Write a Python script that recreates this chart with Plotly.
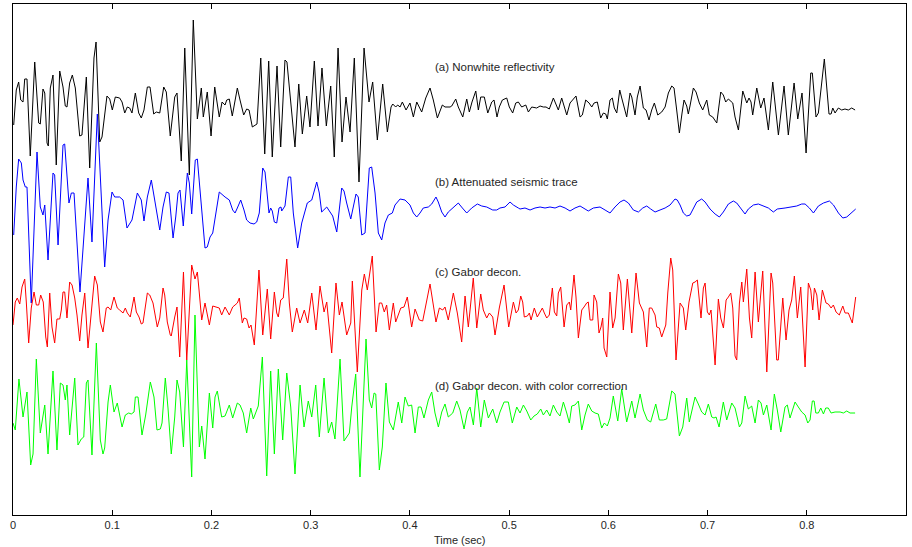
import numpy as np
import plotly.graph_objects as go

# ---------------- data (time in ms, amplitude in display units) ----------------
a_t = [0.7,3.3,5.7,7.8,10.1,11.8,14.1,17.4,21.9,25.9,
       27.5,30.2,32.0,34.3,35.6,37.6,40.3,43.6,47.1,50.4,
       52.7,54.4,57.1,59.8,62.8,67.2,69.5,73.9,77.3,81.6,
       83.7,87.4,89.7,94.7,97.5,100.1,103.1,107.5,109.9,112.6,
       115.2,117.6,119.9,123.3,126.7,129.3,132.0,135.4,138.1,141.8,
       144.4,147.9,151.9,154.5,158.5,163.0,165.3,169.6,173.1,177.7,
       181.7,185.8,189.8,191.8,195.8,199.6,203.3,207.9,210.7,213.7,
       215.4,218.0,221.0,226.1,228.8,232.5,235.5,237.9,241.2,245.9,
       249.7,253.7,257.7,261.3,266.1,269.8,274.1,276.1,284.2,288.0,
       291.6,296.0,299.3,303.7,307.4,311.4,315.8,320.2,323.8,327.6,
       331.6,335.6,339.7,344.0,348.7,353.8,358.8,362.5,367.2,372.6,
       377.3,381.0,382.7,385.7,387.7,390.1,392.4,396.1,400.1,403.5,
       406.9,409.2,411.9,416.0,420.3,423.6,427.7,432.7,435.4,440.5,
       442.2,446.2,448.8,453.3,457.3,459.9,462.6,466.4,469.0,471.4,
       475.0,478.5,482.5,484.8,487.8,490.1,493.2,497.6,500.2,503.6,
       506.7,509.3,512.7,516.8,519.4,522.8,527.8,531.2,534.5,537.2,
       540.5,544.6,548.0,549.6,553.0,555.4,558.1,561.4,564.7,567.4,
       571.5,573.8,577.2,580.6,583.3,585.6,588.9,592.3,595.0,597.4,
       599.0,601.7,604.0,606.0,608.5,611.5,613.5,615.8,618.5,621.9,
       623.6,626.9,629.2,632.0,635.3,638.0,641.0,643.7,646.4,649.8,
       653.8,657.2,660.5,663.9,666.2,668.9,671.6,674.3,676.3,679.0,
       680.6,682.3,685.7,688.4,691.7,695.1,699.2,701.8,705.2,709.3,
       713.3,715.9,718.3,721.0,725.4,727.7,731.1,735.5,739.5,741.8,
       743.8,745.5,749.6,753.6,756.9,761.3,765.7,771.4,777.1,781.4,
       787.2,790.9,795.2,799.3,804.0,805.6,809.3,811.7,817.7,822.4,
       824.5,826.2,828.5,831.8,835.2,838.5,841.9,845.3,848.7]
a_amp = [-16,19,27,9,7,30,30,-47,47,-14,
         -15,20,16,-34,-37,21,34,-56,38,22,
         3,2,26,34,21,-27,-26,32,-59,51,
         67,-33,-28,13,10,-1,12,11,7,-4,
         2,1,-4,16,-4,-9,-1,22,22,-5,
         -3,-4,22,17,-27,12,16,-52,61,-66,
         89,-10,21,-8,17,-27,22,-8,7,4,
         9,10,-7,21,9,-6,0,-1,-18,-15,
         51,-45,48,-48,43,-38,49,47,-38,25,
         -25,13,-18,48,-17,41,-17,23,-48,61,
         -33,12,-23,51,-73,61,7,27,-31,25,
         -23,2,5,2,4,2,7,-1,6,-8,
         7,2,-3,11,21,9,-9,4,2,2,
         3,10,2,-8,10,-3,7,18,-1,12,
         12,-4,7,9,-8,2,9,11,2,-4,
         6,7,2,4,-3,2,1,3,2,2,
         0,11,2,-1,11,2,-6,6,10,13,
         -8,-6,9,6,2,6,7,-9,-4,-5,
         -10,9,11,1,-4,19,11,1,-8,16,
         12,-6,12,23,1,-1,-11,-1,6,-6,
         -3,2,16,23,21,-1,-24,-4,9,3,
         -5,3,21,17,6,-1,9,-6,-8,-14,
         17,14,7,10,6,-8,-21,18,6,11,
         7,-6,21,1,11,-21,27,-26,23,-26,
         26,-10,16,-44,36,36,-8,-4,50,-5,
         -5,1,-4,1,-1,0,-1,1,-1]

b_t = [0.7,3.3,5.7,8.4,10.1,12.4,14.1,18.4,24.2,27.5,
       30.2,32.0,35.3,40.3,42.0,45.4,50.4,52.1,56.4,58.8,
       61.5,63.8,67.5,75.6,79.6,85.0,92.4,95.8,99.8,102.5,
       107.5,110.9,114.9,119.9,125.3,129.3,132.0,135.4,139.4,142.8,
       147.9,151.2,154.5,157.2,161.3,164.0,166.3,168.3,171.6,175.7,
       177.7,180.1,183.7,185.8,189.2,193.5,195.8,198.6,201.3,207.9,
       213.7,218.0,221.4,223.8,226.1,229.5,232.8,235.5,238.9,242.9,
       245.6,248.2,251.7,254.0,258.0,259.7,261.3,263.4,265.8,268.1,
       270.1,270.8,274.1,277.5,279.9,282.5,286.9,291.0,296.6,301.1,
       306.1,308.7,311.1,316.2,322.2,326.3,331.3,333.6,336.3,340.4,
       345.7,348.0,351.5,354.8,359.1,361.5,364.9,368.2,371.6,374.9,
       378.3,382.3,385.0,390.1,395.1,400.1,403.5,406.9,410.2,413.5,
       418.6,422.0,426.3,428.6,432.1,435.4,438.7,443.8,448.8,452.9,
       457.3,462.3,468.0,472.4,477.4,483.5,487.5,490.8,495.9,500.9,
       504.3,509.3,511.0,516.0,521.1,526.1,531.2,536.2,541.2,546.3,
       551.3,556.4,561.4,566.4,571.5,576.5,579.8,584.9,591.6,596.7,
       601.7,606.7,611.8,615.8,620.2,625.2,630.3,634.7,638.7,642.7,
       647.1,652.1,657.2,662.2,667.2,669.5,672.3,675.6,679.0,682.3,
       685.7,689.1,694.1,697.5,702.5,707.6,711.9,715.9,721.0,726.0,
       729.4,734.5,737.8,741.1,746.2,751.2,756.3,761.3,766.3,770.3,
       778.1,784.8,789.9,794.9,798.3,802.6,806.7,811.7,816.8,822.8,
       826.9,831.9,836.3,840.3,845.3,849.3]
b_amp = [-26,22,50,46,29,22,22,-94,57,2,
         -6,4,-51,36,34,-36,64,65,6,16,
         16,-24,-83,31,-33,95,-58,-11,17,12,
         12,9,-19,-11,16,9,-12,12,29,9,
         -21,2,17,16,-29,-8,16,19,-17,36,
         26,-5,49,50,9,-39,-38,-28,-24,17,
         12,9,-1,-4,1,9,-1,-11,-14,-15,
         -13,-4,41,37,-4,1,-2,-13,-14,1,
         2,-2,3,32,32,-4,-39,-14,6,9,
         27,16,-3,2,-7,-23,21,18,6,-10,
         15,12,-26,-24,41,42,16,-24,-31,-14,
         -6,-4,4,10,9,4,-4,-8,-4,1,
         2,5,12,7,-3,-8,-3,2,6,1,
         -4,1,5,3,2,-1,-1,1,2,7,
         4,1,0,1,-1,1,2,1,2,1,
         3,1,-2,1,3,0,-2,1,2,-1,
         -4,2,7,9,6,-1,-3,1,3,0,
         -3,-1,1,4,10,9,4,-4,-7,-6,
         1,7,10,7,0,-5,-8,-3,5,8,
         6,-1,-5,0,4,5,3,1,-3,0,
         1,2,3,5,5,1,-4,3,6,8,
         4,-4,-9,-8,-4,0]

c_t = [0.0,2.3,4.3,6.8,9.1,11.8,13.4,15.8,18.4,21.2,
       23.5,25.9,27.9,30.5,33.0,34.6,37.0,39.3,42.0,44.3,
       47.1,48.7,50.4,52.1,54.4,57.1,59.5,62.2,64.5,67.2,
       69.5,72.3,75.6,78.9,82.3,85.0,88.0,90.7,94.0,95.8,
       98.5,101.8,105.1,107.5,110.9,113.2,115.2,118.2,122.0,124.3,
       127.0,129.3,131.0,135.4,137.8,141.1,145.4,147.9,151.2,152.9,
       155.5,158.5,159.5,163.0,165.3,168.0,171.8,175.1,180.1,183.4,
       185.8,187.5,190.2,193.5,197.9,201.3,205.3,207.9,210.3,213.7,
       218.0,221.4,223.8,226.1,228.1,231.1,232.8,235.5,237.9,239.9,
       243.2,247.9,251.7,256.3,259.7,263.4,265.8,267.4,269.8,272.4,
       275.9,278.5,281.5,285.9,289.3,293.6,297.0,301.1,305.4,309.4,
       313.5,316.2,321.2,325.5,328.9,331.6,336.3,340.4,342.0,347.0,
       351.5,354.1,357.1,362.1,365.9,369.2,371.6,374.2,376.6,379.3,
       383.3,385.7,389.0,390.8,394.1,397.4,401.8,405.2,409.5,412.9,
       420.3,423.6,426.3,429.7,433.1,435.4,438.7,443.8,447.8,452.2,
       455.6,458.9,463.9,467.4,471.4,474.0,477.4,480.1,483.5,485.8,
       490.1,494.9,499.6,504.3,507.0,509.3,511.7,513.7,515.3,518.4,
       520.4,522.1,525.4,528.4,530.5,533.5,535.5,537.9,540.5,543.6,
       545.6,548.0,549.6,552.0,555.4,558.1,560.7,562.1,565.4,567.4,
       569.8,573.2,575.5,578.2,579.8,581.6,584.3,585.6,588.3,590.6,
       592.6,594.3,595.7,598.4,601.7,604.4,606.8,610.1,612.5,615.1,
       619.2,623.6,627.9,631.3,635.3,638.7,641.3,643.7,647.1,648.8,
       651.4,653.8,657.9,659.9,662.9,664.9,668.2,672.3,675.6,678.0,
       681.3,685.1,687.4,689.7,691.7,693.4,695.8,697.5,699.8,701.8,
       703.5,705.2,707.6,710.9,713.3,716.0,718.7,721.0,723.4,725.4,
       727.7,729.4,732.1,734.5,736.1,739.5,742.2,744.5,747.9,751.2,
       755.6,759.7,764.0,765.7,769.7,771.3,775.8,779.1,782.1,784.8,
       787.5,790.5,793.9,798.3,801.6,804.0,806.0,807.7,810.1,812.4,
       815.7,819.4,821.7,824.5,826.8,829.5,832.8,836.3,838.6,841.9,
       845.9,849.3]
c_amp = [-15,8,12,6,23,31,8,-33,2,18,
         5,5,15,8,-27,-37,17,-17,-33,-9,
         -9,0,18,18,-8,28,25,12,-5,-31,
         -5,17,-38,-2,34,25,-12,-22,2,3,
         0,13,2,0,-3,2,-3,-7,13,-2,
         -7,-14,-13,17,15,7,-17,-8,22,15,
         -12,-25,-26,-7,3,-47,38,-50,45,31,
         38,20,-10,7,-15,4,3,2,-5,3,
         -5,3,5,7,12,-13,-8,-9,-18,-15,
         -35,40,-25,21,-29,18,-3,-7,10,12,
         51,7,-22,2,-13,0,-13,17,-20,24,
         -2,8,-43,27,-5,8,-25,-13,29,-62,
         20,36,20,54,-22,7,7,-2,5,-20,
         7,-12,-3,2,3,13,-17,1,-10,-11,
         26,7,-12,2,0,3,-10,17,-3,-32,
         14,-17,32,-18,16,0,-8,-3,-7,-25,
         2,25,-17,8,-3,0,14,8,-7,-6,
         -3,-10,2,-7,-3,2,-3,-8,-5,22,
         -2,-6,17,23,-17,5,8,0,35,13,
         -28,0,3,7,8,-10,-10,15,8,-23,
         -17,-8,-38,-47,18,-18,-8,36,27,-20,
         31,-23,37,7,-2,-37,2,2,-5,-17,
         -18,-27,-15,17,52,40,-50,7,2,-20,
         8,27,28,30,10,-8,22,27,-2,-5,
         0,-23,-55,11,-8,-18,10,13,17,2,
         -46,-50,7,28,8,41,-8,-28,38,-12,
         39,-62,37,27,-50,-50,12,-30,0,10,
         34,-8,23,-57,27,20,0,22,15,-10,
         20,7,6,2,5,-2,-5,4,-3,-3,
         -13,13]

d_t = [0.0,2.3,6.0,10.1,14.1,17.8,20.2,23.5,27.5,32.0,
       35.3,40.3,44.3,47.7,50.4,52.7,54.4,57.1,62.2,65.5,
       68.8,71.3,73.9,75.6,79.6,84.0,88.0,90.7,92.4,95.8,
       98.1,101.8,105.1,109.9,113.2,116.6,119.2,122.0,123.3,126.0,
       130.0,133.7,138.4,142.1,145.1,148.5,150.2,153.5,156.2,159.5,
       163.0,165.3,168.0,171.8,175.1,180.1,183.4,187.8,190.2,193.5,
       197.9,201.3,203.6,205.9,210.3,213.7,218.0,221.4,226.1,228.8,
       232.1,235.5,239.6,242.2,247.2,251.3,255.7,259.7,263.4,267.4,
       271.8,275.9,279.9,284.2,289.3,293.3,297.6,301.1,305.1,308.7,
       313.5,317.8,321.2,324.5,329.6,333.6,339.0,341.4,345.4,349.7,
       355.8,359.1,361.5,363.9,365.6,369.2,372.2,375.9,379.3,383.3,
       388.3,391.8,395.1,398.4,401.8,405.2,408.5,411.2,414.2,418.6,
       422.0,425.3,428.7,432.1,435.4,438.7,443.2,447.2,450.5,454.6,
       457.9,460.6,464.0,467.4,471.4,475.0,479.1,483.5,487.5,490.8,
       494.9,499.2,503.2,507.7,511.0,514.4,517.8,521.8,525.1,528.4,
       531.9,534.5,537.9,541.2,544.6,548.0,551.3,554.7,558.1,560.7,
       563.1,566.4,569.8,573.2,576.5,579.8,583.3,586.6,589.9,593.3,
       596.0,599.0,601.7,605.0,609.5,613.5,618.5,623.6,626.9,632.0,
       635.3,639.3,642.7,647.8,651.4,655.4,658.8,663.9,667.2,671.6,
       675.0,679.0,681.6,687.4,690.7,694.1,697.5,700.8,704.2,706.5,
       708.6,711.6,715.9,719.3,724.4,727.7,732.1,734.5,737.8,741.1,
       744.5,747.9,751.2,753.9,756.3,759.7,764.0,767.3,770.3,773.8,
       778.1,780.4,783.1,788.2,791.5,794.9,798.3,801.0,803.3,805.6,
       807.4,809.1,811.7,814.1,816.8,819.1,821.7,824.5,828.5,833.6,
       836.9,840.3,843.6,848.7]
d_amp = [-12,-19,32,-6,19,-54,-43,52,-22,6,
         -43,40,-39,28,26,11,26,-24,33,-34,
         -28,-26,28,31,-44,68,-29,-43,-37,9,
         26,-1,8,-16,-4,-2,-3,-1,14,14,
         -24,-4,29,14,-19,-18,-12,33,3,-43,
         -6,31,19,-36,51,-66,96,-36,-15,-48,
         18,-17,14,20,-6,-5,6,-7,8,6,
         -2,-22,3,-8,5,54,-65,40,-43,42,
         -29,38,4,-63,26,-16,10,-6,26,-26,
         33,-22,-11,-28,52,-30,-22,4,37,-66,
         72,11,3,18,17,-59,-36,28,-11,-19,
         9,-12,14,5,6,-22,4,4,-7,11,
         19,-2,-16,-1,7,-6,-2,10,1,-18,
         -1,4,-14,23,-16,11,-7,2,-12,-1,
         9,9,-12,4,-2,6,0,-9,-5,-3,
         2,-4,1,-5,6,-1,-5,9,-2,-12,
         5,6,10,-19,-4,7,0,-2,-3,-17,
         -12,-15,-7,15,-10,22,-11,10,-7,17,
         1,-9,-11,7,-9,-9,-8,20,17,-25,
         -16,13,-11,14,7,-1,-4,7,-6,-7,
         -6,-16,9,-9,8,3,-16,-12,15,2,
         5,-12,11,8,-4,6,-19,17,1,-21,
         4,6,-7,9,4,-1,-4,-12,-9,10,
         10,-2,-2,3,-3,3,3,-2,-1,-1,
         -2,0,-2,-2]

trace_offsets = [406, 306, 205, 104]
trace_colors = ["#000000", "#0000ff", "#ff0000", "#00ff00"]
trace_labels = ["(a) Nonwhite reflectivity", "(b) Attenuated seismic trace",
                "(c) Gabor decon.", "(d) Gabor decon. with color correction"]
label_y = [448, 333, 243, 129]
tick_vals = [0, 0.1, 0.2, 0.3, 0.4, 0.5, 0.6, 0.7, 0.8, 0.9]
tick_text = ["0", "0.1", "0.2", "0.3", "0.4", "0.5", "0.6", "0.7", "0.8", "0.9"]

series = [(a_t, a_amp), (b_t, b_amp), (c_t, c_amp), (d_t, d_amp)]
for i, (t, a) in enumerate(series):
    assert len(t) == len(a), f"series {i}: {len(t)} times vs {len(a)} amps"

FONT = "Liberation Sans, Arial, sans-serif"
fig = go.Figure()
for (t, a), off, col in zip(series, trace_offsets, trace_colors):
    fig.add_trace(go.Scatter(
        x=np.array(t) / 1000.0, y=np.array(a) + off, mode="lines",
        line=dict(color=col, width=1), hoverinfo="skip", showlegend=False))

for txt, yy in zip(trace_labels, label_y):
    fig.add_annotation(x=0.4233, y=yy, xref="x", yref="y", text=txt,
                       showarrow=False, xanchor="left", yanchor="middle",
                       font=dict(family=FONT, size=11.5, color="#262626"))

fig.add_annotation(x=0.5, y=0, xref="paper", yref="paper", text="Time (sec)",
                   showarrow=False, xanchor="center", yanchor="top", yshift=-17,
                   font=dict(family=FONT, size=11, color="#262626"))

fig.update_layout(
    width=912, height=547,
    margin=dict(l=13, r=6, t=4, b=32),
    paper_bgcolor="white", plot_bgcolor="white",
    font=dict(family=FONT, size=11, color="#262626"),
    hovermode=False,
    xaxis=dict(range=[0, 0.9], tickvals=tick_vals, ticktext=tick_text,
               ticks="inside", ticklen=5, tickcolor="black", tickwidth=1,
               showline=True, linecolor="black", linewidth=1, mirror="ticks",
               showgrid=False, zeroline=False, fixedrange=True,
               tickfont=dict(family=FONT, size=11, color="#262626")),
    yaxis=dict(range=[0, 511], showline=True, linecolor="black", linewidth=1,
               mirror=True, ticks="", showticklabels=False,
               showgrid=False, zeroline=False, fixedrange=True),
)

fig.write_html("out.html", config={"displayModeBar": False},
               post_script="document.body.style.margin='0';document.body.style.padding='0';")
